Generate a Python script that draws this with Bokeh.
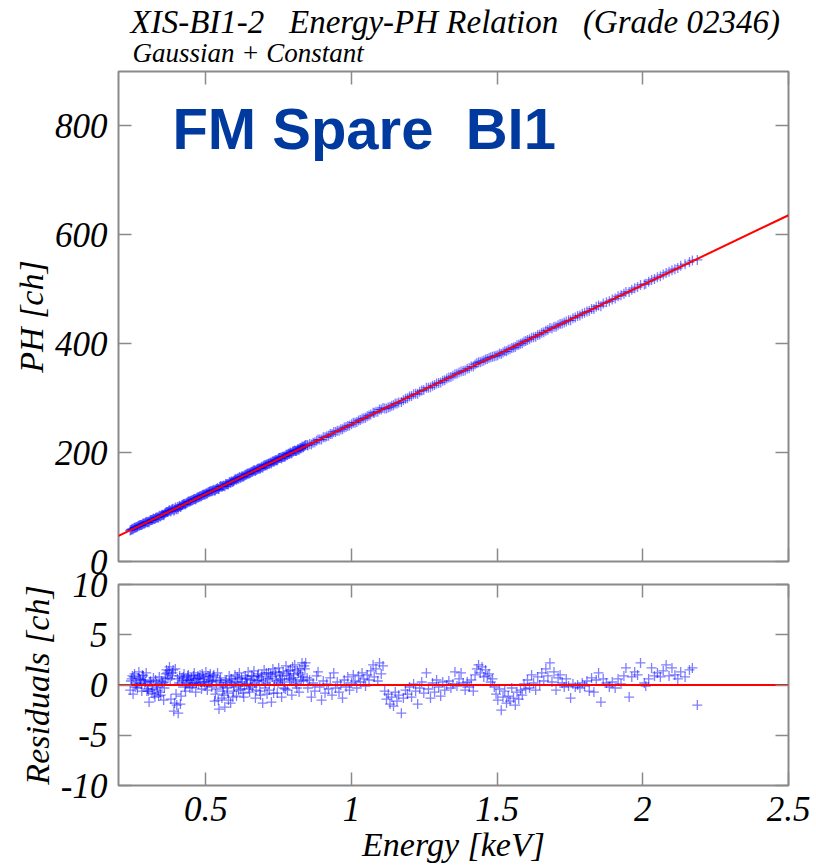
from bokeh.plotting import figure
from bokeh.layouts import column
from bokeh.models import Range1d, FixedTicker, LinearAxis, Title, Label, ColumnDataSource
from bokeh.embed import file_html
from bokeh.resources import INLINE

# ---------------- texts ----------------
TITLE = "XIS-BI1-2 \u00a0\u00a0Energy-PH Relation \u00a0\u00a0(Grade 02346)"
SUBTITLE = "Gaussian + Constant"
TAG = "FM Spare \u00a0BI1"
X_LABEL = "Energy [keV]"
Y_LABEL_TOP = "PH [ch]"
Y_LABEL_BOTTOM = "Residuals [ch]"

# ---------------- axes ----------------
X_RANGE = (0.2, 2.5)
X_TICKS = [0.5, 1, 1.5, 2, 2.5]
X_TICK_LABELS = ["0.5", "1", "1.5", "2", "2.5"]
PH_RANGE = (0, 900)
PH_TICKS = [0, 200, 400, 600, 800]
PH_TICK_LABELS = ["0", "200", "400", "600", "800"]
RES_RANGE = (-10, 10)
RES_TICKS = [-10, -5, 0, 5, 10]
RES_TICK_LABELS = ["-10", "-5", "0", "5", "10"]

# ---------------- fit (PH = slope * E + offset) ----------------
FIT_SLOPE = 256.0
FIT_OFFSET = -4.0

# ---------------- data ----------------
ENERGY_KEV = [
    0.240, 0.245, 0.250, 0.255, 0.260, 0.265, 0.270, 0.275, 0.280, 0.285,
    0.290, 0.295, 0.300, 0.305, 0.310, 0.315, 0.320, 0.325, 0.330, 0.335,
    0.340, 0.345, 0.350, 0.355, 0.360, 0.365, 0.370, 0.375, 0.380, 0.385,
    0.390, 0.395, 0.400, 0.405, 0.410, 0.415, 0.420, 0.425, 0.430, 0.435,
    0.440, 0.445, 0.450, 0.455, 0.460, 0.465, 0.470, 0.475, 0.480, 0.485,
    0.490, 0.495, 0.500, 0.505, 0.510, 0.515, 0.520, 0.525, 0.530, 0.535,
    0.540, 0.545, 0.550, 0.555, 0.560, 0.565, 0.570, 0.575, 0.580, 0.585,
    0.590, 0.595, 0.600, 0.605, 0.610, 0.615, 0.620, 0.625, 0.630, 0.635,
    0.640, 0.645, 0.650, 0.655, 0.660, 0.665, 0.670, 0.675, 0.680, 0.685,
    0.690, 0.695, 0.700, 0.705, 0.710, 0.715, 0.720, 0.725, 0.730, 0.735,
    0.740, 0.745, 0.750, 0.755, 0.760, 0.765, 0.770, 0.775, 0.780, 0.785,
    0.790, 0.795, 0.800, 0.805, 0.810, 0.815, 0.820, 0.825, 0.830, 0.835,
    0.840,
    0.850, 0.856, 0.862, 0.868, 0.874, 0.880, 0.885, 0.891, 0.897, 0.903,
    0.909, 0.915, 0.921, 0.927, 0.933, 0.939, 0.945, 0.951, 0.957, 0.963,
    0.969, 0.975, 0.981, 0.987, 0.993, 1.000, 1.006, 1.012, 1.018, 1.024,
    1.030, 1.036, 1.042, 1.048, 1.054, 1.060, 1.066, 1.074, 1.078, 1.084,
    1.090, 1.096, 1.102, 1.108, 1.114, 1.120, 1.126, 1.132, 1.138, 1.144,
    1.150, 1.156, 1.162, 1.171, 1.178, 1.185, 1.192, 1.199, 1.206, 1.213,
    1.220, 1.227, 1.234, 1.241, 1.248, 1.257, 1.264, 1.271, 1.278, 1.285,
    1.292, 1.299, 1.306, 1.313, 1.320, 1.327, 1.334, 1.341, 1.348, 1.355,
    1.362, 1.369, 1.376, 1.383, 1.390, 1.397, 1.404, 1.411, 1.418, 1.424,
    1.430, 1.436, 1.442, 1.448, 1.454, 1.460, 1.466, 1.472, 1.478, 1.484,
    1.490, 1.496, 1.502, 1.508, 1.514, 1.520, 1.526, 1.532, 1.538, 1.544,
    1.550, 1.556, 1.562, 1.568, 1.574, 1.580, 1.586, 1.592, 1.598, 1.604,
    1.611, 1.618, 1.625, 1.632, 1.639, 1.646, 1.653, 1.660, 1.667, 1.674,
    1.681, 1.688, 1.695, 1.702, 1.709, 1.716, 1.723, 1.730, 1.737, 1.745,
    1.752, 1.760, 1.768, 1.776, 1.784, 1.792, 1.800, 1.808, 1.816, 1.824,
    1.832, 1.840, 1.848, 1.856, 1.864, 1.875, 1.885, 1.895, 1.905, 1.915,
    1.925, 1.935, 1.942, 1.953, 1.962, 1.972, 1.982, 1.992, 2.005, 2.010,
    2.020, 2.030, 2.040, 2.050, 2.060, 2.070, 2.080, 2.090, 2.100, 2.110,
    2.120, 2.130, 2.145, 2.160, 2.170, 2.187,
    0.2425, 0.2525, 0.2625, 0.2725, 0.2825, 0.2925, 0.3025, 0.3125, 0.3225, 0.3325,
    0.3425, 0.3525, 0.3625, 0.3725, 0.3825, 0.3925, 0.4025, 0.4125, 0.4225, 0.4325,
    0.4425, 0.4525, 0.4625, 0.4725, 0.4825, 0.4925, 0.5025, 0.5125, 0.5225, 0.5325,
    0.5425, 0.5525, 0.5625, 0.5725, 0.5825, 0.5925, 0.6025, 0.6125, 0.6225, 0.6325,
    0.6425, 0.6525, 0.6625, 0.6725, 0.6825, 0.6925, 0.7025, 0.7125, 0.7225, 0.7325,
    0.7425, 0.7525, 0.7625, 0.7725, 0.7825, 0.7925, 0.8025, 0.8125, 0.8225, 0.8325,
    0.8425,
    0.2475, 0.2575, 0.2675, 0.2775, 0.2875, 0.2975, 0.3075, 0.3175, 0.3275, 0.3375,
    0.3475, 0.3575, 0.3675, 0.3775, 0.3875, 0.3975, 0.4075, 0.4175, 0.4275, 0.4375,
    0.4475, 0.4575, 0.4675, 0.4775, 0.4875, 0.4975, 0.5075, 0.5175, 0.5275, 0.5375,
    0.5475, 0.5575, 0.5675, 0.5775, 0.5875, 0.5975, 0.6075, 0.6175, 0.6275, 0.6375,
    0.6475, 0.6575, 0.6675, 0.6775, 0.6875, 0.6975, 0.7075, 0.7175, 0.7275, 0.7375,
    0.7475, 0.7575, 0.7675, 0.7775, 0.7875, 0.7975, 0.8075, 0.8175, 0.8275, 0.8375,
    0.8475,
]

PH_CH = [
    57, 59, 59, 62, 63, 64, 66, 67, 67, 70,
    70, 73, 72, 72, 76, 76, 79, 78, 81, 81,
    84, 83, 86, 85, 89, 91, 91, 94, 92, 96,
    93, 99, 96, 97, 102, 101, 104, 106, 105, 108,
    110, 110, 112, 113, 115, 114, 117, 118, 120, 120,
    122, 123, 125, 125, 127, 129, 129, 131, 130, 133,
    135, 133, 138, 137, 139, 138, 142, 142, 145, 144,
    147, 148, 151, 150, 153, 155, 154, 156, 156, 159,
    160, 162, 162, 164, 165, 168, 166, 169, 171, 171,
    173, 172, 177, 177, 177, 180, 181, 180, 184, 184,
    186, 186, 190, 190, 189, 193, 193, 196, 195, 198,
    200, 199, 202, 204, 203, 206, 205, 208, 211, 210,
    213,
    213, 216, 215, 218, 219, 222, 224, 224, 224, 228,
    228, 230, 231, 234, 234, 238, 238, 240, 240, 243,
    243, 246, 247, 249, 250, 252, 255, 255, 256, 259,
    260, 262, 263, 264, 267, 268, 270, 273, 273, 275,
    275, 279, 279, 282, 281, 281, 283, 284, 286, 287,
    290, 290, 292, 293, 296, 299, 300, 303, 304, 307,
    308, 308, 312, 314, 315, 319, 319, 320, 323, 324,
    327, 328, 329, 332, 333, 336, 338, 339, 341, 344,
    345, 347, 349, 350, 351, 354, 355, 358, 358, 362,
    364, 366, 366, 368, 369, 371, 372, 374, 375, 376,
    377, 378, 379, 382, 381, 384, 386, 386, 389, 390,
    392, 393, 394, 397, 398, 400, 401, 404, 405, 407,
    408, 411, 412, 413, 416, 417, 420, 421, 424, 425,
    429, 428, 431, 431, 434, 436, 437, 439, 441, 443,
    443, 447, 448, 451, 452, 455, 457, 459, 460, 464,
    464, 468, 470, 469, 474, 476, 478, 481, 483, 487,
    489, 492, 495, 495, 499, 502, 504, 508, 509, 510,
    514, 517, 519, 522, 524, 527, 530, 532, 535, 537,
    539, 543, 546, 550, 553, 554,
    58, 61, 63, 66, 69, 71, 73, 76, 78, 81,
    83, 86, 90, 93, 95, 95, 100, 100, 105, 107,
    110, 112, 115, 118, 120, 123, 125, 128, 130, 131,
    133, 138, 139, 142, 146, 146, 151, 152, 156, 158,
    161, 163, 166, 168, 171, 174, 176, 179, 182, 183,
    186, 190, 192, 193, 198, 199, 203, 204, 208, 210,
    214,
    60, 62, 65, 67, 70, 72, 75, 77, 80, 81,
    85, 87, 91, 93, 97, 97, 101, 104, 105, 109,
    111, 114, 116, 119, 122, 123, 127, 129, 132, 133,
    137, 138, 142, 142, 147, 149, 152, 154, 156, 160,
    161, 165, 167, 170, 171, 175, 178, 179, 183, 186,
    188, 191, 192, 196, 198, 202, 203, 206, 208, 212,
    214,
]

RESIDUAL_CH = [
    -0.5, 0.6, -0.9, 1.1, 0.2, -0.3, 1.3, 0.5, -0.6, 0.9,
    0.1, 1.2, -0.4, -1.7, 0.4, -0.8, 0.7, -1.2, 0.1, -0.5,
    0.8, -1.0, 0.3, -1.5, 0.6, 1.5, 0.7, 1.8, -1.4, 1.2,
    -2.6, 1.6, -2.0, -2.8, 0.9, -1.1, 0.4, 1.1, -0.6, 0.5,
    1.0, -0.3, 0.7, 0.2, 1.2, -0.7, 0.6, 0.1, 1.0, -0.4,
    0.8, 0.3, 1.3, -0.5, 0.5, 1.1, -0.2, 0.9, -1.6, 0.4,
    1.2, -2.4, 0.7, -1.3, -0.2, -2.2, 0.5, -0.8, 0.9, -1.8,
    0.2, -0.6, 1.0, -1.1, 0.6, 1.2, -0.4, 0.3, -1.2, 0.9,
    0.1, 1.3, -0.7, 0.5, -0.2, 1.4, -1.3, 0.4, 1.1, -0.6,
    0.8, -1.8, 1.5, 0.2, -0.9, 1.2, 0.6, -1.7, 1.6, 0.0,
    1.0, -0.8, 1.7, 0.5, -1.2, 1.3, 0.3, 1.9, -0.5, 0.9,
    1.5, -1.0, 0.7, 2.0, 0.1, 1.4, -0.7, 1.0, 2.2, 0.4,
    1.6,
    -0.3, 0.5, -1.2, 0.2, -0.6, 0.9, 1.3, -0.2, -1.5, 0.4,
    -0.8, 0.1, -0.4, 0.7, -1.0, 1.2, -0.3, 0.3, -0.7, 0.0,
    -1.3, 0.5, -0.2, 0.8, -0.5, 0.2, 1.0, 0.4, -0.3, 0.9,
    0.3, 1.2, 0.6, -0.1, 1.0, 0.5, 1.4, 2.0, 0.8, 1.6,
    0.4, 2.2, 1.1, 1.9, -0.6, -1.4, -0.9, -1.9, -1.2, -2.1,
    -0.7, -1.6, -1.0, -2.8, -1.3, -0.5, -0.9, -0.2, -1.2, 0.1,
    -0.6, -1.9, -0.3, 0.3, -0.8, 1.2, -0.4, -1.3, 0.2, -0.7,
    0.5, -0.2, -1.1, 0.3, -0.5, 0.0, 0.4, -0.3, 0.1, 1.3,
    -0.1, 0.6, 1.2, 0.2, -0.5, 0.3, -0.2, 0.5, -0.6, 1.0,
    1.6, 2.0, 1.2, 1.8, 0.8, 1.5, 0.9, 1.1, 0.3, 0.6,
    -0.2, -0.9, -1.5, -0.4, -2.5, -1.2, -0.6, -1.8, -1.1, -1.6,
    -0.3, -1.3, -2.0, -0.7, -1.4, -0.5, -1.0, 0.1, -0.4, 0.5,
    -0.3, 1.0, 0.2, -0.5, 0.8, 0.0, 1.2, 0.4, 1.6, 0.9,
    2.2, 0.3, 1.3, -0.5, 0.7, 1.0, 0.2, -0.2, 0.6, -0.1,
    -1.3, 0.1, -0.2, 0.0, -0.3, 0.2, -0.1, 0.4, -0.6, 0.7,
    -0.7, 0.5, 1.2, -1.7, 0.6, 0.2, -0.2, 0.3, -0.3, 0.6,
    0.1, 0.9, 1.7, -1.2, 0.8, 1.3, 1.0, 2.2, 0.2, -0.1,
    0.6, 1.7, 0.9, 1.2, 0.8, 1.4, 2.0, 0.9, 1.7, 1.0,
    0.6, 1.3, 0.8, 1.5, 1.7, -2.0,
    0.4, 0.8, 0.0, 0.6, 1.0, 0.3, -0.6, 0.0, -0.9, -0.2,
    -0.7, 0.2, 1.1, 1.4, 0.9, -1.8, 0.6, -1.9, 0.8, 0.2,
    0.5, -0.2, 0.6, 0.9, 0.3, 0.6, 0.1, 0.8, 0.4, -0.9,
    -1.5, 0.2, -1.0, -0.3, 0.4, -1.2, 0.3, -0.5, 0.7, -0.1,
    0.6, 0.0, 0.8, -0.5, 0.5, 1.0, -0.3, 0.6, 1.1, -0.8,
    0.4, 1.2, 0.6, -0.4, 1.4, 0.5, 1.1, -0.3, 1.6, 0.8,
    2.2,
    0.9, -0.2, 0.7, 0.1, 0.5, -0.6, 0.3, -0.4, 0.5, -1.1,
    0.4, -0.3, 1.2, 0.6, 1.5, -0.9, 0.2, 0.7, -0.2, 0.9,
    0.4, 0.9, 0.2, 0.7, 1.1, -0.1, 0.9, 0.3, 1.0, -0.4,
    0.5, -0.6, 0.3, -1.5, 0.6, -0.2, 0.8, 0.1, -0.8, 0.6,
    -0.4, 0.9, 0.2, 0.9, -1.0, 0.4, 1.2, -0.5, 0.8, 1.3,
    0.2, 0.9, -0.3, 1.1, 0.6, 1.8, 0.3, 1.2, 0.5, 1.9,
    0.7,
]

# ---------------- styles ----------------
SERIF = "Liberation Serif"
SANS = "Liberation Sans"
FRAME_GREY = "#8a8a8a"
POINT_COLOR = "#0000ff"
FIT_COLOR = "#ff0000"
TAG_COLOR = "#003a9e"

src = ColumnDataSource(dict(e=ENERGY_KEV, ph=PH_CH, res=RESIDUAL_CH))
fit_e = list(X_RANGE)
fit_src = ColumnDataSource(dict(e=fit_e, ph=[FIT_SLOPE * x + FIT_OFFSET for x in fit_e], zero=[0.0, 0.0]))


def style_axis(ax, ticks, labels=None, axis_label=None):
    ax.ticker = FixedTicker(ticks=ticks)
    ax.axis_line_color = None
    ax.major_tick_in = 13
    ax.major_tick_out = 0
    ax.major_tick_line_color = FRAME_GREY
    ax.major_tick_line_width = 1.5
    ax.minor_tick_line_color = None
    if labels is not None:
        ax.major_label_overrides = dict(zip(ticks, labels))
        ax.major_label_text_font = SERIF
        ax.major_label_text_font_style = "italic"
        ax.major_label_text_font_size = "35px"
        ax.major_label_text_color = "black"
        ax.major_label_standoff = 11
    else:
        ax.major_label_text_color = None
        ax.major_label_standoff = 0
    if axis_label is not None:
        ax.axis_label = axis_label
        ax.axis_label_text_font = SERIF
        ax.axis_label_text_font_style = "italic"
        ax.axis_label_text_font_size = "34px"
        ax.axis_label_text_color = "black"
        ax.axis_label_standoff = 2


def base_fig(y_range, frame_h, top, bottom):
    p = figure(
        frame_width=670, frame_height=frame_h,
        x_range=Range1d(*X_RANGE), y_range=Range1d(*y_range),
        min_border_left=118, min_border_right=28,
        min_border_top=top, min_border_bottom=bottom,
        output_backend="svg", toolbar_location=None, title=None,
    )
    p.grid.visible = False
    p.outline_line_color = FRAME_GREY
    p.outline_line_width = 2
    p.background_fill_color = "white"
    p.border_fill_color = None
    return p


# ---------------- upper panel ----------------
p1 = base_fig(PH_RANGE, 490, 71, 30)
style_axis(p1.yaxis[0], PH_TICKS, PH_TICK_LABELS, Y_LABEL_TOP)
style_axis(p1.xaxis[0], X_TICKS)
ax_top = LinearAxis()
p1.add_layout(ax_top, "above")
style_axis(ax_top, X_TICKS)
ax_right = LinearAxis()
p1.add_layout(ax_right, "right")
style_axis(ax_right, PH_TICKS)

p1.add_layout(Title(text=SUBTITLE, align="left", offset=14, text_font=SERIF,
                    text_font_style="italic", text_font_size="27px",
                    text_color="black", standoff=8), "above")
p1.add_layout(Title(text=TITLE, align="left", offset=12, text_font=SERIF,
                    text_font_style="italic", text_font_size="33px",
                    text_color="black", standoff=-17), "above")

p1.scatter("e", "ph", source=src, marker="cross", size=10,
           line_color=POINT_COLOR, line_alpha=0.5, line_width=1.3)
p1.line("e", "ph", source=fit_src, line_color=FIT_COLOR, line_width=2)
p1.add_layout(Label(x=0.385, y=795, text=TAG, text_font=SANS, text_font_style="bold",
                    text_font_size="58px", text_color=TAG_COLOR, text_baseline="alphabetic"))

# ---------------- lower panel ----------------
p2 = base_fig(RES_RANGE, 201, 30, 80)
style_axis(p2.yaxis[0], RES_TICKS, RES_TICK_LABELS, Y_LABEL_BOTTOM)
style_axis(p2.xaxis[0], X_TICKS, X_TICK_LABELS, X_LABEL)
ax_top2 = LinearAxis()
p2.add_layout(ax_top2, "above")
style_axis(ax_top2, X_TICKS)
ax_right2 = LinearAxis()
p2.add_layout(ax_right2, "right")
style_axis(ax_right2, RES_TICKS)
p2.margin = (-37, 0, 0, 0)

p2.scatter("e", "res", source=src, marker="cross", size=10,
           line_color=POINT_COLOR, line_alpha=0.5, line_width=1.3)
p2.line("e", "zero", source=fit_src, line_color=FIT_COLOR, line_width=2)

layout = column(p1, p2)
open("out.html", "w").write(file_html(layout, INLINE, title="XIS-BI1-2 Energy-PH Relation"))
